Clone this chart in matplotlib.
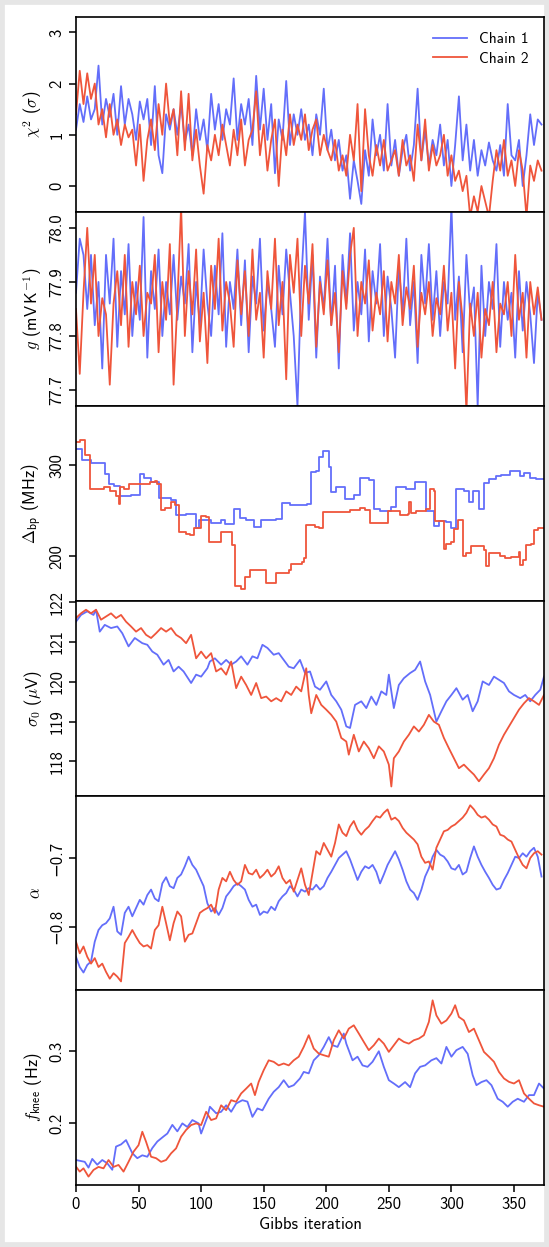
import numpy as np
import matplotlib
matplotlib.use("Agg")
import matplotlib.pyplot as plt
from matplotlib.patches import Rectangle

plt.rcParams["font.family"] = ["cmss10", "DejaVu Sans"]
plt.rcParams["mathtext.fontset"] = "cm"
plt.rcParams["axes.unicode_minus"] = True

BLUE = "#636EFA"
RED = "#EF553B"
STEP = 3  # thinned chains: one sample every 3 Gibbs iterations
N_ITER = 374

# chi^2 (sigma), thinned
chi2_c1 = [1.1, 1.6, 1.25, 1.75, 1.3, 1.5, 2.35, 1.2, 1.7, 1.35, 1.8, 1.0, 1.95, 1.2, 1.7, 1.4,
           0.9, 1.65, 1.3, 1.7, 0.8, 1.95, 0.6, 0.25, 1.4, 1.1, 1.5, 1.0, 1.6, 0.85, 1.2, 0.6,
           1.5, 0.9, 1.3, 0.7, 1.8, 1.1, 1.6, 0.9, 1.5, 1.2, 2.1, 0.9, 1.6, 1.2, 1.7, 0.8,
           2.15, 1.1, 1.9, 0.9, 1.6, 0.25, 1.3, 0.9, 2.05, 0.8, 1.4, 1.0, 1.5, 0.9, 1.2, 0.6,
           1.4, 1.0, 1.9, 0.7, 1.1, 0.5, 0.9, 0.3, 0.6, -0.25, 0.5, 0.1, -0.35, 0.7, 0.2, 1.3,
           0.6, 1.0, 0.3, 1.6, 0.4, 0.9, 0.2, 0.7, 1.0, 0.3, 0.8, 1.9, 0.5, 1.1, 0.4, 0.9,
           0.6, 1.2, 0.4, 0.9, 0.0, 0.8, 1.75, 0.5, 1.2, 0.3, 0.9, 0.2, 0.7, 0.4, 0.85, 0.5,
           0.3, 0.8, 0.2, 1.6, 0.6, 0.5, 0.9, 0.0, 0.6, 1.4, 0.8, 1.3, 1.2]
chi2_c2 = [1.4, 2.25, 1.6, 2.2, 1.7, 2.0, 1.2, 1.5, 0.95, 1.6, 1.0, 1.3, 0.8, 1.2, 0.95, 1.1,
           0.4, 1.2, 0.1, 0.9, 1.3, 0.7, 1.6, 1.0, 2.0, 1.2, 1.5, 0.6, 1.85, 0.7, 1.8, 0.5,
           1.1, 0.4, -0.15, 0.8, 0.5, 1.0, 0.6, 1.2, 0.8, 0.4, 1.1, 0.6, 1.3, 0.4, 0.9, 1.1,
           1.85, 0.6, 1.2, 0.3, 0.9, 1.3, 0.0, 1.1, 0.6, 1.4, 0.8, 1.2, 0.9, 1.4, 0.7, 1.1,
           1.3, 0.6, 1.0, 0.7, 0.5, 0.9, 0.3, 0.6, 0.2, 1.0, 0.5, 1.6, -0.1, 1.5, 0.6, 0.2,
           0.8, 0.4, 0.9, 0.3, 0.5, 0.7, 0.2, 0.9, 0.4, 0.6, 0.1, 1.2, 0.5, 1.3, 0.3, 0.8,
           0.4, 0.6, 1.0, 0.2, 0.6, 0.1, 0.3, -0.1, 0.2, -0.6, -0.2, -0.5, 0.0, -0.3, -0.6, 0.1,
           0.7, 0.3, 0.9, 0.2, 0.5, 0.0, 0.7, 0.3, -0.6, 0.4, 0.1, 0.5, 0.3]

# gain g (mV/K), thinned
gain_c1 = [77.88, 77.98, 77.95, 77.85, 77.95, 77.82, 77.90, 77.74, 77.95, 77.86, 77.98, 77.78,
           77.92, 77.84, 77.97, 77.80, 77.90, 77.83, 78.02, 77.76, 77.92, 77.85, 77.96, 77.80,
           77.90, 77.84, 77.95, 77.83, 77.91, 77.86, 77.97, 77.77, 77.90, 77.82, 77.96, 77.86,
           77.80, 77.93, 77.84, 77.99, 77.78, 77.90, 77.85, 77.96, 77.82, 77.94, 77.77, 77.91,
           77.86, 77.98, 77.81, 77.90, 77.85, 77.78, 77.93, 77.84, 77.96, 77.88, 77.80, 77.67,
           77.90, 78.03, 77.83, 77.95, 77.76, 77.91, 77.85, 77.98, 77.82, 77.93, 77.74, 77.95,
           77.86, 77.99, 77.81, 77.90, 77.84, 77.96, 77.79, 77.92, 77.86, 77.97, 77.80, 77.91,
           77.85, 77.76, 77.93, 77.84, 77.98, 77.82, 77.90, 77.75, 77.95, 77.86, 77.97, 77.83,
           77.92, 77.80, 77.90, 77.86, 78.04, 77.83, 77.91, 77.77, 77.95, 77.84, 77.89, 77.67,
           77.93, 77.80, 77.90, 77.85, 77.97, 77.78, 77.90, 77.83, 77.88, 77.76, 77.92, 77.81,
           77.90, 77.84, 77.75, 77.88, 77.83]
gain_c2 = [77.85, 77.73, 77.88, 78.00, 77.86, 77.95, 77.80, 77.87, 77.84, 77.71, 77.86, 77.92,
           77.82, 77.95, 77.78, 77.90, 77.84, 77.93, 77.80, 77.88, 77.86, 77.95, 77.77, 77.90,
           77.83, 77.97, 77.71, 77.86, 78.04, 77.80, 77.92, 77.84, 77.96, 77.79, 77.88, 77.75,
           77.93, 77.85, 77.98, 77.81, 77.90, 77.86, 77.78, 77.94, 77.84, 77.92, 77.80, 77.96,
           77.83, 77.88, 77.76, 77.92, 77.85, 77.98, 77.82, 77.90, 77.72, 77.95, 77.88, 77.98,
           77.80, 77.93, 77.86, 77.97, 77.78, 77.90, 77.84, 77.94, 77.82, 77.88, 77.77, 77.92,
           77.85, 77.95, 78.00, 77.80, 77.90, 77.86, 77.94, 77.81, 77.88, 77.84, 77.92, 77.79,
           77.90, 77.86, 77.95, 77.82, 77.89, 77.85, 77.93, 77.78, 77.88, 77.84, 77.90, 77.80,
           77.87, 77.84, 77.93, 77.81, 77.88, 77.74, 77.90, 77.83, 77.66, 77.86, 77.80, 77.88,
           77.76, 77.85, 77.82, 77.90, 77.77, 77.86, 77.84, 77.90, 77.80, 77.95, 77.83, 77.88,
           77.76, 77.90, 77.84, 77.89, 77.83]

# bandpass shift (MHz): iteration where a new value is accepted, and the value
dbp_it_c1 = [0, 5, 12, 23, 26, 30, 35, 44, 51, 54, 60, 66, 76, 80, 88, 96, 98, 108, 116, 119,
             126, 131, 136, 142, 148, 160, 165, 171, 179, 185, 188, 192, 194, 197, 202, 204, 208,
             215, 222, 227, 234, 238, 243, 252, 256, 264, 271, 276, 280, 286, 290, 296, 300, 304,
             310, 314, 317, 322, 326, 330, 336, 340, 347, 355, 358, 363, 368]
dbp_c1 = [318.4, 305.5, 303.0, 290.8, 280.0, 277.0, 266.0, 268.0, 291.0, 286.0, 282.0, 264.0,
          262.0, 245.5, 247.0, 231.0, 240.0, 237.0, 240.0, 235.5, 252.0, 242.0, 240.0, 232.0,
          240.0, 241.0, 258.5, 256.8, 256.0, 258.0, 292.7, 293.8, 309.0, 315.8, 298.0, 270.6,
          276.0, 263.0, 267.0, 286.5, 284.0, 252.0, 249.6, 254.8, 276.0, 274.0, 281.7, 282.0,
          250.0, 233.8, 239.0, 237.5, 231.0, 274.0, 272.0, 259.5, 272.0, 252.0, 280.6, 285.4,
          288.0, 290.0, 293.8, 288.0, 292.0, 286.6, 285.5]
dbp_it_c2 = [0, 3, 7, 11, 22, 27, 32, 34, 35, 38, 42, 59, 63, 65, 68, 71, 76, 79, 82, 88, 91,
             94, 100, 104, 106, 116, 125, 127, 132, 135, 139, 152, 160, 170, 172, 181, 182, 184,
             191, 194, 197, 219, 227, 231, 235, 249, 259, 265, 266, 268, 272, 280, 283, 286, 287,
             294, 296, 300, 302, 305, 309, 312, 316, 326, 328, 330, 339, 343, 348, 354, 355, 357,
             360, 364, 366, 369]
dbp_c2 = [325.7, 328.0, 312.0, 274.0, 276.0, 272.0, 266.0, 257.8, 276.0, 274.0, 279.7, 281.7,
          282.8, 279.7, 251.0, 253.0, 259.5, 256.0, 226.6, 225.0, 223.0, 231.0, 244.7, 243.0,
          216.0, 226.6, 212.0, 168.0, 164.5, 177.0, 184.6, 170.6, 181.7, 184.6, 192.0, 194.0,
          198.0, 234.4, 232.5, 231.0, 249.0, 250.7, 253.7, 251.5, 236.8, 250.0, 245.0, 247.0,
          259.5, 247.5, 249.6, 252.0, 274.0, 272.0, 239.0, 208.0, 214.0, 215.5, 230.0, 240.0,
          201.0, 203.6, 211.0, 206.6, 190.0, 203.6, 201.0, 198.5, 199.0, 204.7, 191.0, 195.6,
          212.0, 213.5, 229.5, 230.7]

# white noise level sigma_0 (uV)
sig_it_c1 = [0, 4, 9, 14, 16, 19, 23, 28, 33, 37, 42, 47, 53, 57, 61, 65, 70, 74, 78, 82, 86, 92,
             96, 100, 105, 107, 111, 116, 120, 124, 128, 132, 137, 141, 145, 149, 153, 158, 162,
             166, 170, 174, 179, 183, 187, 191, 195, 200, 204, 208, 212, 216, 219, 223, 228, 232,
             236, 240, 244, 248, 250, 254, 258, 262, 267, 271, 275, 279, 283, 288, 292, 296, 300,
             304, 309, 313, 317, 321, 325, 330, 334, 338, 342, 346, 350, 355, 359, 363, 367, 371,
             374]
sig_c1 = [121.51, 121.68, 121.77, 121.68, 121.81, 121.26, 121.43, 121.35, 121.39, 121.22,
          120.89, 121.10, 120.97, 120.93, 120.76, 120.68, 120.43, 120.55, 120.26, 120.38,
          120.26, 119.97, 120.18, 120.13, 120.34, 120.51, 120.59, 120.43, 120.55, 120.43,
          120.51, 120.64, 120.43, 120.64, 120.59, 120.93, 120.85, 120.68, 120.72, 120.55,
          120.38, 120.34, 120.55, 120.22, 120.26, 119.88, 119.80, 120.01, 119.67, 119.51,
          119.30, 118.88, 118.84, 119.42, 119.51, 119.34, 119.63, 119.42, 119.76, 119.67,
          120.18, 119.34, 119.92, 120.09, 120.22, 120.30, 120.51, 120.01, 119.67, 119.00,
          119.26, 119.51, 119.67, 119.84, 119.55, 119.67, 119.26, 119.51, 120.01, 119.92,
          120.13, 120.05, 119.97, 119.76, 119.67, 119.59, 119.67, 119.51, 119.67, 119.80,
          120.13]
sig_it_c2 = [0, 4, 8, 12, 16, 20, 24, 28, 32, 36, 40, 44, 48, 52, 56, 60, 64, 68, 72, 76, 80, 84,
             88, 92, 96, 100, 104, 108, 112, 116, 120, 124, 128, 132, 136, 140, 144, 148, 152,
             156, 160, 164, 168, 172, 176, 180, 184, 186, 188, 192, 196, 200, 204, 208, 212, 216,
             218, 222, 226, 230, 234, 238, 242, 246, 250, 252, 254, 258, 262, 266, 270, 274, 278,
             282, 286, 290, 294, 298, 302, 306, 310, 314, 318, 322, 326, 330, 334, 338, 342, 346,
             350, 354, 358, 362, 366, 370, 374]
sig_c2 = [121.60, 121.72, 121.81, 121.72, 121.81, 121.56, 121.64, 121.72, 121.60, 121.68,
          121.51, 121.39, 121.26, 121.35, 121.18, 121.10, 121.22, 121.35, 121.26, 121.35,
          121.18, 121.10, 120.97, 121.18, 120.59, 120.76, 120.59, 120.72, 120.26, 120.34,
          120.18, 120.51, 119.84, 120.13, 119.92, 119.67, 119.97, 119.59, 119.63, 119.51,
          119.59, 119.51, 119.76, 119.67, 119.88, 119.76, 120.34, 119.67, 119.21, 119.67,
          119.42, 119.30, 119.17, 119.00, 118.59, 118.50, 118.17, 118.67, 118.25, 118.50,
          118.33, 118.08, 118.38, 118.25, 117.92, 117.37, 118.08, 118.25, 118.50, 118.67,
          118.88, 118.75, 118.92, 119.17, 119.00, 118.92, 118.59, 118.33, 118.08, 117.83,
          117.92, 117.79, 117.67, 117.50, 117.67, 117.83, 118.08, 118.42, 118.67, 118.88,
          119.09, 119.30, 119.46, 119.59, 119.51, 119.42, 119.67]

# 1/f slope alpha, thinned
alpha_c1 = [-0.844, -0.859, -0.867, -0.856, -0.851, -0.822, -0.805, -0.798, -0.795, -0.788,
            -0.771, -0.807, -0.812, -0.780, -0.771, -0.785, -0.773, -0.761, -0.768, -0.754,
            -0.746, -0.759, -0.763, -0.737, -0.728, -0.741, -0.744, -0.729, -0.724, -0.712,
            -0.698, -0.710, -0.717, -0.729, -0.741, -0.766, -0.778, -0.773, -0.783, -0.773,
            -0.756, -0.749, -0.741, -0.737, -0.741, -0.746, -0.761, -0.771, -0.768, -0.783,
            -0.778, -0.780, -0.771, -0.776, -0.763, -0.756, -0.751, -0.741, -0.746, -0.756,
            -0.746, -0.749, -0.744, -0.746, -0.739, -0.746, -0.741, -0.729, -0.720, -0.710,
            -0.700, -0.695, -0.690, -0.702, -0.717, -0.732, -0.720, -0.712, -0.715, -0.710,
            -0.720, -0.737, -0.724, -0.710, -0.700, -0.690, -0.702, -0.717, -0.734, -0.746,
            -0.751, -0.761, -0.746, -0.727, -0.715, -0.698, -0.688, -0.695, -0.698, -0.705,
            -0.715, -0.717, -0.710, -0.724, -0.720, -0.700, -0.683, -0.698, -0.710, -0.720,
            -0.729, -0.739, -0.746, -0.744, -0.732, -0.722, -0.710, -0.698, -0.700, -0.693,
            -0.698, -0.690, -0.685, -0.698, -0.727]
alpha_c2 = [-0.822, -0.839, -0.829, -0.844, -0.854, -0.846, -0.859, -0.854, -0.866, -0.876,
            -0.868, -0.873, -0.880, -0.824, -0.815, -0.805, -0.815, -0.824, -0.829, -0.827,
            -0.832, -0.805, -0.798, -0.771, -0.795, -0.820, -0.795, -0.778, -0.785, -0.822,
            -0.812, -0.810, -0.795, -0.780, -0.776, -0.773, -0.768, -0.780, -0.746, -0.729,
            -0.734, -0.720, -0.732, -0.739, -0.734, -0.710, -0.722, -0.724, -0.717, -0.729,
            -0.724, -0.717, -0.727, -0.722, -0.712, -0.729, -0.737, -0.732, -0.749, -0.732,
            -0.715, -0.739, -0.754, -0.722, -0.690, -0.695, -0.678, -0.688, -0.698, -0.678,
            -0.651, -0.663, -0.668, -0.654, -0.646, -0.659, -0.666, -0.659, -0.654, -0.646,
            -0.639, -0.641, -0.634, -0.629, -0.644, -0.641, -0.646, -0.656, -0.663, -0.668,
            -0.673, -0.680, -0.698, -0.707, -0.705, -0.717, -0.685, -0.673, -0.661, -0.659,
            -0.654, -0.651, -0.646, -0.641, -0.634, -0.623, -0.629, -0.637, -0.641, -0.639,
            -0.644, -0.651, -0.654, -0.666, -0.668, -0.673, -0.676, -0.688, -0.700, -0.710,
            -0.715, -0.700, -0.693, -0.690, -0.695]

# knee frequency (Hz)
fk_it_c1 = [0, 7, 10, 13, 17, 21, 25, 29, 32, 36, 40, 45, 49, 53, 57, 61, 65, 70, 73, 77, 81, 85,
            89, 93, 98, 100, 105, 107, 112, 116, 120, 124, 128, 133, 137, 141, 145, 149, 154, 158,
            162, 166, 170, 174, 179, 182, 186, 190, 194, 198, 202, 205, 209, 214, 216, 221, 225,
            229, 233, 237, 242, 246, 250, 254, 258, 263, 267, 271, 275, 279, 284, 288, 292, 296,
            300, 304, 309, 313, 317, 320, 324, 328, 332, 337, 341, 345, 349, 353, 358, 362, 366,
            370, 374]
fk_c1 = [0.1495, 0.147, 0.139, 0.151, 0.143, 0.1495, 0.145, 0.136, 0.168, 0.171,
         0.177, 0.159, 0.152, 0.156, 0.154, 0.166, 0.175, 0.182, 0.186, 0.198,
         0.189, 0.200, 0.195, 0.2046, 0.200, 0.186, 0.209, 0.223, 0.214, 0.216,
         0.225, 0.216, 0.2275, 0.232, 0.230, 0.209, 0.2206, 0.218, 0.234, 0.2436,
         0.250, 0.2596, 0.250, 0.2527, 0.262, 0.271, 0.269, 0.287, 0.294, 0.3055,
         0.319, 0.3078, 0.3055, 0.324, 0.310, 0.287, 0.292, 0.280, 0.278, 0.285,
         0.2995, 0.278, 0.2596, 0.255, 0.250, 0.257, 0.250, 0.269, 0.278, 0.280,
         0.287, 0.290, 0.2826, 0.3055, 0.292, 0.301, 0.3055, 0.296, 0.2665, 0.2527,
         0.257, 0.2596, 0.2527, 0.234, 0.2298, 0.223, 0.2298, 0.234, 0.2298, 0.239,
         0.239, 0.255, 0.248]
fk_it_c2 = [0, 3, 6, 10, 14, 18, 22, 26, 30, 34, 38, 42, 46, 50, 53, 56, 60, 64, 68, 72, 76, 80,
            84, 88, 92, 96, 100, 104, 108, 112, 116, 120, 124, 128, 132, 136, 140, 143, 146, 150,
            154, 158, 162, 166, 170, 174, 178, 182, 186, 190, 194, 198, 202, 206, 210, 214, 218,
            222, 226, 230, 234, 238, 242, 246, 250, 254, 258, 262, 266, 270, 274, 278, 282, 285,
            288, 292, 296, 300, 303, 306, 310, 314, 318, 322, 326, 330, 334, 338, 342, 346, 350,
            354, 358, 362, 366, 370, 374]
fk_c2 = [0.1404, 0.1335, 0.138, 0.1266, 0.1358, 0.140, 0.138, 0.1495, 0.140, 0.1427,
         0.1335, 0.147, 0.161, 0.170, 0.1885, 0.1747, 0.154, 0.152, 0.147, 0.1495,
         0.1587, 0.1656, 0.1817, 0.191, 0.1977, 0.200, 0.1977, 0.216, 0.2046, 0.2069,
         0.225, 0.2183, 0.232, 0.2298, 0.2413, 0.248, 0.255, 0.239, 0.2573, 0.2734,
         0.287, 0.2849, 0.280, 0.2826, 0.280, 0.287, 0.292, 0.3055, 0.3216, 0.3032,
         0.2963, 0.294, 0.292, 0.3147, 0.3284, 0.317, 0.3307, 0.3353, 0.324, 0.3124,
         0.301, 0.3078, 0.317, 0.310, 0.2986, 0.3078, 0.317, 0.3124, 0.310, 0.3147,
         0.317, 0.3216, 0.340, 0.3697, 0.349, 0.3376, 0.342, 0.3514, 0.363, 0.3468,
         0.342, 0.326, 0.3307, 0.3147, 0.2986, 0.292, 0.285, 0.271, 0.262, 0.2573,
         0.255, 0.2596, 0.2413, 0.234, 0.2275, 0.225, 0.223]


def thinned(vals):
    return np.arange(len(vals)) * STEP


fig, axes = plt.subplots(6, 1, figsize=(5.49, 12.47), dpi=100, sharex=True)
fig.subplots_adjust(left=0.1384, right=0.9909, top=0.9864, bottom=0.0497, hspace=0)

lw = 1.3
ax = axes[0]
ax.plot(thinned(chi2_c1), chi2_c1, color=BLUE, lw=lw, label="Chain 1")
ax.plot(thinned(chi2_c2), chi2_c2, color=RED, lw=lw, label="Chain 2")
ax.set_ylim(-0.5, 3.3)
ax.set_yticks([0, 1, 2, 3])
ax.set_ylabel(r"$\chi^{\mathsf{2}}$ ($\sigma$)")
ax.legend(loc="upper right", frameon=False, fontsize=11, handlelength=2.2,
          labelspacing=0.35, borderaxespad=0.6)

ax = axes[1]
ax.plot(thinned(gain_c1), gain_c1, color=BLUE, lw=lw)
ax.plot(thinned(gain_c2), gain_c2, color=RED, lw=lw)
ax.set_ylim(77.67, 78.03)
ax.set_yticks([77.7, 77.8, 77.9, 78.0])
ax.set_yticklabels(["77.7", "77.8", "77.9", "78.0"])
ax.set_ylabel(r"$g$ (mV$\,$K$^{-1}$)")

ax = axes[2]
ax.plot(dbp_it_c1 + [N_ITER], dbp_c1 + [dbp_c1[-1]], color=BLUE, lw=lw, drawstyle="steps-post")
ax.plot(dbp_it_c2 + [N_ITER], dbp_c2 + [dbp_c2[-1]], color=RED, lw=lw, drawstyle="steps-post")
ax.set_ylim(151, 365)
ax.set_yticks([200, 300])
ax.set_ylabel(r"$\Delta_{\mathsf{bp}}$ (MHz)")

ax = axes[3]
ax.plot(sig_it_c1, sig_c1, color=BLUE, lw=lw)
ax.plot(sig_it_c2, sig_c2, color=RED, lw=lw)
ax.set_ylim(117.14, 122.03)
ax.set_yticks([118, 119, 120, 121, 122])
ax.set_ylabel(r"$\sigma_{\mathsf{0}}$ ($\mu$V)")

ax = axes[4]
ax.plot(thinned(alpha_c1), alpha_c1, color=BLUE, lw=lw)
ax.plot(thinned(alpha_c2), alpha_c2, color=RED, lw=lw)
ax.set_ylim(-0.893, -0.609)
ax.set_yticks([-0.8, -0.7])
ax.set_yticklabels(["\u22120.8", "\u22120.7"])
ax.set_ylabel(r"$\alpha$")

ax = axes[5]
ax.plot(fk_it_c1, fk_c1, color=BLUE, lw=lw)
ax.plot(fk_it_c2, fk_c2, color=RED, lw=lw)
ax.set_ylim(0.115, 0.3835)
ax.set_yticks([0.2, 0.3])
ax.set_ylabel(r"$f_{\mathsf{knee}}$ (Hz)")
ax.set_xlabel("Gibbs iteration", fontsize=12)
ax.set_xlim(0, N_ITER)
ax.set_xticks(np.arange(0, 351, 50))

for ax in axes:
    for sp in ax.spines.values():
        sp.set_linewidth(1.2)
    ax.tick_params(axis="y", labelsize=12, length=5, width=1.1, labelrotation=90)
    for lab in ax.get_yticklabels():
        lab.set_va("center")
    ax.yaxis.label.set_size(12)
    ax.tick_params(axis="x", labelsize=12, length=5, width=1.1)
for ax in axes[:-1]:
    ax.tick_params(axis="x", length=0, labelbottom=False)

fig.align_ylabels(axes)

# light grey frame around the whole figure
fig.patches.append(Rectangle((0, 0), 1, 1, transform=fig.transFigure, fill=False,
                             edgecolor="#e6e6e6", linewidth=7, zorder=-1))

fig.savefig("out.png", dpi=100)
